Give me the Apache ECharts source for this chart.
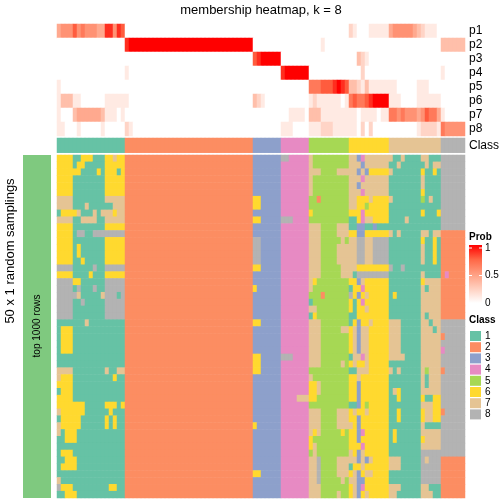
<!DOCTYPE html>
<html><head><meta charset="utf-8">
<script src="https://cdn.jsdelivr.net/npm/echarts@6/dist/echarts.min.js"></script>
<style>html,body{margin:0;padding:0;background:#fff}#c{width:504px;height:504px}</style>
</head><body><div id="c"></div>
<script>
// ---------- data ----------
const probLabels = ['p1','p2','p3','p4','p5','p6','p7','p8'];
const classLabels = ['1','2','3','4','5','6','7','8'];
const classColors = ['#66C2A5','#FC8D62','#8DA0CB','#E78AC3','#A6D854','#FFD92F','#E5C494','#B3B3B3'];
const probTicks = ['1','0.5','0'];
// column class (annotation row), 102 columns: class blocks 1..8
const columnClass = "11111111111111111" + "22222222222222222222222222222222" + "3333333" + "4444444" + "5555555555" + "6666666666" + "7777777777777" + "888888";
// membership probability per column (digit d -> d/9), one string piece per class block
const probP1 = ["45557565554488587","00000000000000000000000000000000","0000000","0000000","0000000000","2100011111","4555554321110","000000"];
const probP2 = ["00000000000000000","89999999999999999999999999999999","0000000","0000000","0001000000","0000000000","0000000000000","333333"];
const probP3 = ["00000000000000000","00000000000000000000000000000000","7899999","0000000","0000000000","0032100000","0000000000000","000000"];
const probP4 = ["00000000000000000","10000000000000000000000000000000","0000000","8999999","0000000000","0002000000","0000000000000","100000"];
const probP5 = ["10000000000000000","00000000000000000000000000000000","0000000","0000000","6667778987","3321311111","1100000111000","000000"];
const probP6 = ["13331100000011111","10000000000000000000000000000000","3210000","0000000","1211111101","6766789999","1110000111111","000000"];
const probP7 = ["10003444444311101","00000000000000000000000000000000","0000000","0011110","3331111111","1101111011","6656555457664","100000"];
const probP8 = ["11000100000100000","21000000000000000000000000000000","0000000","1110000","1112221111","1102020000","0000000122221","655555"];
// class of each cell of the 50 x 102 main heatmap, split by column block
const block1Rows = [
"66661166611166766","66661661111166666","66666611116166616","66661111111166666","66661111111166666",
"66661111111166666","77771111111177777","77771117111111777","16666711171777677","77771177771177777",
"66661111111166666","66661881188888888","66661111111166666","66661611111166666","66661611111166666",
"66661161111166666","88881111181188888","66661111611166666","88886611111188888","88881811181188888",
"88888711111788818","88881181111188888","88881111111188888","88881111111188888","11111117111111111",
"16661111111111111","16661111111111111","16661111111111111","16661111111111111","11111111111111111",
"11111111111111111","77771111111171177","76661111111111611","66661111111111111","16661111111111111",
"66661111111111111","66666661111166616","76666661111116111","16666611111161611","76666611111161611",
"71666111111111111","11666111111111111","11111111111111111","16661111111111111","11666111111111111",
"16666111111111111","11111111111111111","71111111111111111","86661111111116611","11666111111111111"];
const block2Row = "22222222222222222222222222222222"; // identical in all 50 rows
const block3Rows = [
"3333333","3333333","3333333","3333333","3333333","3333333","6633333","6633333","3333333","6633333",
"3333333","3333333","8833333","8833333","8833333","8833333","6633333","3333333","3333333","6333333",
"3333333","3333333","3333333","3333333","6633333","3333333","3333333","3333333","3333333","6633333",
"6633333","6633333","3333333","3333333","3333333","3333333","3333333","3333333","3333333","6333333",
"3333333","3333333","3333333","3333333","3333333","3333333","6633333","3333333","3333333","3333333"];
const block4Rows = [
"8844444","4444444","4444444","4444444","4444444","4444444","4444444","4444444","4444444","8884444",
"4444444","4444444","4444444","4444444","4444444","4444444","4444444","4444444","4444444","4444444",
"4444444","4444444","4444444","4444444","4444444","4444444","4444444","4444444","4444444","8884444",
"4444444","4444444","4444444","4444444","4444444","4444777","4444444","4444444","4444444","4444444",
"4444444","4444444","4444444","4444444","4444444","4444444","4444444","4444444","4444444","4444444"];
const block5Rows = [
"7555555555","7555555555","7775555777","7555555555","7555555555","7555555555","5525555555","5555555555","6555555555","5555555555",
"7775555777","7775555777","7775555575","7775555777","7775555777","7775555777","7775555577","7775555577","7655555555","7555555555",
"5552555555","1555555555","7755555555","1655555555","7775555555","7775555577","7775555555","7775555555","7775555555","7775555555",
"7775555575","5555555555","7555555555","6675555555","6675555555","6655555555","5555555555","7775555777","7775555777","7775555777",
"7675555565","6555555555","6755555555","5755555555","7785555777","7785555777","7785555777","7785555575","7775555555","7775555755"];
const block6Rows = [
"7734777777","7773777777","7737366666","7774777777","7737777777","7774777777","7766676666","7766566666","6664666666","1164776666",
"1133113111","6633666666","7788778888","7788778888","7788778888","7788778888","7766666666","7188888888","6637666666","1664666666",
"8636766666","6164666666","6166766666","1166666666","1636676666","6737766666","6737766666","6737766666","6737766666","1774766666",
"6766766666","1177766666","6676666666","6636666666","6636666666","6636666666","1136566666","6766766666","6636666666","7636666666",
"6634666666","6636666666","6664666666","7637666666","7737376666","1667666666","6736776666","7733666666","6734666666","6736766666"];
const block7Rows = [
"7117111177111","1171111117177","7111111161161","1111111171111","1111111171111","1111111161111","7111111151711","1111111111111","1111111161116","1111711111111",
"1111111111111","7171111177177","1111111161161","1111111171161","1111111171161","1111111171161","8118111111111","1111111171111","1111111167777","1111111171777",
"1611111177777","1111111177777","1111111177777","1111111171777","7771111177177","7771111177717","7771111177777","7771111177777","7771111177777","7777111177777",
"1111111177777","7171111175777","1111111171777","1111111171777","1761111177777","1161111161166","1111111177766","1161111167766","1161111167766","1111111171111",
"1611111177777","1611111167777","1111111177777","1111111188888","7771111187888","7771111188888","1111111188888","1111111188888","7771111177111","7711111177711"];
const block8Rows = [
"888888","888888","888888","888888","888888","888888","888888","888888","888888","888888",
"888888","222222","222222","222222","222222","222222","222222","242222","222222","222222",
"222222","222222","222222","222222","888888","888888","288888","888888","488888","888888",
"888888","288888","888888","888888","888888","888888","888888","288888","888888","888888",
"888888","888888","888888","888888","222222","222222","222222","222222","222222","222222"];

// ---------- build tables for the library ----------
const probRows = [probP1,probP2,probP3,probP4,probP5,probP6,probP7,probP8].map(a => a.join(''));
const memberRows = block1Rows.map((b1, r) => b1 + block2Row + block3Rows[r] + block4Rows[r] + block5Rows[r] + block6Rows[r] + block7Rows[r] + block8Rows[r]);
const nCols = columnClass.length;
const colCats = Array.from({length: nCols}, (_, i) => String(i));
const rowCats = memberRows.map((_, i) => String(i));

const probData = [];
probRows.forEach((s, r) => { for (let c = 0; c < nCols; c++) probData.push([c, r, Number(s[c] || 0) / 9]); });
const classData = [];
for (let c = 0; c < nCols; c++) classData.push([c, 0, Number(columnClass[c])]);
const mainData = [];
memberRows.forEach((s, r) => { for (let c = 0; c < nCols; c++) mainData.push([c, r, Number(s[c] || 2)]); });

const FONT = "'Liberation Sans', Arial, Helvetica, sans-serif";
const chart = echarts.init(document.getElementById('c'), null, {renderer: 'canvas'});

const GL = 57, GW = 408;
const hiddenX = (gi) => ({type: 'category', gridIndex: gi, data: colCats, show: false});

const legendTop = 331, legendStep = 11.2;
const graphics = [
  {type: 'text', x: 261, y: 10.5, style: {text: 'membership heatmap, k = 8', fontSize: 13, fontFamily: FONT, fill: '#000', textAlign: 'center', textVerticalAlign: 'middle'}},
  {type: 'text', x: 10, y: 251, rotation: Math.PI / 2, style: {text: '50 x 1 random samplings', fontSize: 13, fontFamily: FONT, fill: '#000', textAlign: 'center', textVerticalAlign: 'middle'}},
  {type: 'rect', shape: {x: 23, y: 155, width: 28, height: 343}, style: {fill: '#7FC97F'}},
  {type: 'text', x: 37, y: 326, rotation: Math.PI / 2, style: {text: 'top 1000 rows', fontSize: 10, fontFamily: FONT, fill: '#000', textAlign: 'center', textVerticalAlign: 'middle'}},
  {type: 'text', x: 469, y: 237, style: {text: 'Prob', fontSize: 10, fontWeight: 'bold', fontFamily: FONT, fill: '#000', textAlign: 'left', textVerticalAlign: 'middle'}},
  {type: 'rect', shape: {x: 469, y: 245, width: 13, height: 58}, style: {fill: new echarts.graphic.LinearGradient(0, 0, 0, 1, [
    {offset: 0, color: '#FF0000'}, {offset: 0.25, color: '#FF6746'}, {offset: 0.5, color: '#FF9E81'}, {offset: 0.75, color: '#FFCFBF'}, {offset: 1, color: '#FFFFFF'}])}},
  {type: 'line', shape: {x1: 469, y1: 248, x2: 472, y2: 248}, style: {stroke: '#fff', lineWidth: 1}},
  {type: 'line', shape: {x1: 479, y1: 248, x2: 482, y2: 248}, style: {stroke: '#fff', lineWidth: 1}},
  {type: 'line', shape: {x1: 469, y1: 275.5, x2: 472, y2: 275.5}, style: {stroke: '#fff', lineWidth: 1}},
  {type: 'line', shape: {x1: 479, y1: 275.5, x2: 482, y2: 275.5}, style: {stroke: '#fff', lineWidth: 1}},
  {type: 'text', x: 469, y: 320, style: {text: 'Class', fontSize: 10, fontWeight: 'bold', fontFamily: FONT, fill: '#000', textAlign: 'left', textVerticalAlign: 'middle'}}
];
[248, 275.5, 303].forEach((y, i) => graphics.push({type: 'text', x: 485, y: y, style: {text: probTicks[i], fontSize: 10, fontFamily: FONT, fill: '#000', textAlign: 'left', textVerticalAlign: 'middle'}}));
classLabels.forEach((lab, i) => {
  const y = legendTop + i * legendStep;
  graphics.push({type: 'rect', shape: {x: 470, y: y, width: 11, height: 10}, style: {fill: classColors[i]}});
  graphics.push({type: 'text', x: 485, y: y + 5, style: {text: lab, fontSize: 10, fontFamily: FONT, fill: '#000', textAlign: 'left', textVerticalAlign: 'middle'}});
});

chart.setOption({
  animation: false,
  backgroundColor: '#fff',
  grid: [
    {left: GL, top: 24, width: GW, height: 112},
    {left: GL, top: 138, width: GW, height: 14.7},
    {left: GL, top: 155, width: GW, height: 343}
  ],
  xAxis: [hiddenX(0), hiddenX(1), hiddenX(2)],
  yAxis: [
    {type: 'category', gridIndex: 0, data: probLabels, inverse: true, position: 'right',
     axisLine: {show: false}, axisTick: {show: false}, splitLine: {show: false},
     axisLabel: {interval: 0, margin: 4, fontSize: 12, color: '#000', fontFamily: FONT}},
    {type: 'category', gridIndex: 1, data: ['Class'], position: 'right',
     axisLine: {show: false}, axisTick: {show: false}, splitLine: {show: false},
     axisLabel: {interval: 0, margin: 4, fontSize: 12, color: '#000', fontFamily: FONT}},
    {type: 'category', gridIndex: 2, data: rowCats, inverse: true, show: false}
  ],
  visualMap: [
    {type: 'continuous', show: false, min: 0, max: 1, seriesIndex: 0, dimension: 2,
     inRange: {color: ['#FFFFFF', '#FFCFBF', '#FF9E81', '#FF6746', '#FF0000']}},
    {type: 'piecewise', show: false, seriesIndex: [1, 2], dimension: 2,
     pieces: classLabels.map((l, i) => ({value: Number(l), color: classColors[i]}))}
  ],
  series: [
    {type: 'heatmap', xAxisIndex: 0, yAxisIndex: 0, data: probData, progressive: 0, silent: true},
    {type: 'heatmap', xAxisIndex: 1, yAxisIndex: 1, data: classData, progressive: 0, silent: true},
    {type: 'heatmap', xAxisIndex: 2, yAxisIndex: 2, data: mainData, progressive: 0, silent: true}
  ],
  graphic: graphics
});
</script></body></html>
